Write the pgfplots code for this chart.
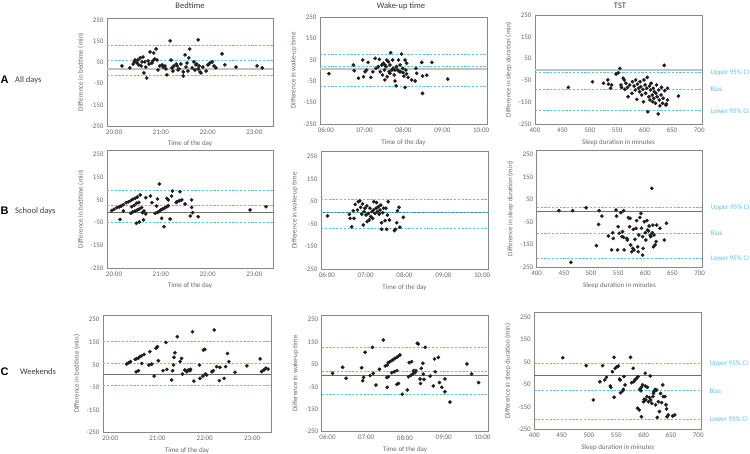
\documentclass[border=0pt]{standalone}
\usepackage{fontspec}
\setmainfont{Carlito}
\newfontfamily\arialfont{Liberation Sans}
\usepackage{pgfplots}
\pgfplotsset{compat=1.18}
\definecolor{bacyan}{RGB}{85,198,235}
\definecolor{labcyan}{RGB}{95,192,232}
\definecolor{txtgray}{RGB}{105,105,105}
\definecolor{titlegray}{RGB}{60,60,60}
\definecolor{framegray}{RGB}{135,135,135}
\definecolor{zerogray}{RGB}{195,195,195}
\definecolor{zerodark}{RGB}{110,110,110}
\definecolor{dotcol}{RGB}{30,30,30}
\tikzset{cilab/.style={anchor=west, xshift=5pt, text=labcyan, font=\fontsize{7}{8}\selectfont}}
\pgfplotsset{
  ba/.style={
    scale only axis, clip=false, anchor=south west,
    axis line style={draw=framegray, line width=0.9pt},
    major tick length=0pt, tick style={draw=none},
    ymin=-250, ytick={-250,-150,-50,50,150,250},
    /pgf/number format/assume math mode=true,
    ticklabel style={font=\fontsize{7}{8}\selectfont, text=txtgray},
    label style={font=\fontsize{7}{8}\selectfont, text=txtgray},
  },
  lcol/.style={xmin=19.85, xmax=23.4, xtick={20,21,22,23}, xticklabels={20:00,21:00,22:00,23:00},
    xlabel={Time of the day}, ylabel={Difference in bedtime (min)}},
  mcol/.style={xmin=5.85, xmax=10.15, xtick={6,7,8,9,10}, xticklabels={06:00,07:00,08:00,09:00,10:00},
    xlabel={Time of the day}, ylabel={Difference in wake-up time}},
  rcol/.style={xmin=400, xmax=705, xtick={400,450,500,550,600,650,700},
    xlabel={Sleep duration in minutes}, ylabel={Difference in sleep duration (min)}},
  dots/.style={only marks, mark=*, mark size=1.65pt, draw=dotcol, fill=dotcol, mark options={draw=dotcol, fill=dotcol}},
  ci/.style={draw=bacyan, color=bacyan, line width=0.9pt, dash pattern=on 2.2pt off 1.6pt},
  zeroA/.style={draw=zerogray, line width=2pt},
  zeroB/.style={draw=zerodark, line width=0.8pt},
}
\begin{document}
\begin{tikzpicture}
\path[use as bounding box] (0,0) rectangle (750pt,453pt);
% titles
\node[inner sep=0pt, font=\fontsize{8.5}{10}\selectfont, text=titlegray] at (190pt,447pt) {Bedtime};
\node[inner sep=0pt, font=\fontsize{8.5}{10}\selectfont, text=titlegray] at (401pt,447pt) {Wake-up time};
\node[inner sep=0pt, font=\fontsize{8.5}{10}\selectfont, text=titlegray] at (620pt,447pt) {TST};
% row labels
\node[anchor=west, inner sep=0pt, font=\arialfont\bfseries\fontsize{11}{12}\selectfont] at (0.5pt,373pt) {A};
\node[anchor=west, inner sep=0pt, font=\fontsize{8.5}{10}\selectfont, text=titlegray] at (15pt,373pt) {All days};
\node[anchor=west, inner sep=0pt, font=\arialfont\bfseries\fontsize{11}{12}\selectfont] at (0.5pt,242pt) {B};
\node[anchor=west, inner sep=0pt, font=\fontsize{8.5}{10}\selectfont, text=titlegray] at (15pt,242pt) {School days};
\node[anchor=west, inner sep=0pt, font=\arialfont\bfseries\fontsize{11}{12}\selectfont] at (0.5pt,81pt) {C};
\node[anchor=west, inner sep=0pt, font=\fontsize{8.5}{10}\selectfont, text=titlegray] at (20pt,81pt) {Weekends};

% ===== A1 =====
\begin{axis}[ba, lcol, at={(107pt,327pt)}, width=166pt, height=108pt, ymax=259]
\addplot[zeroA] coordinates {(19.85,19) (23.4,19)};
\addplot[ci] coordinates {(19.85,129) (23.4,129)};
\addplot[ci] coordinates {(19.85,57) (23.4,57)};
\addplot[ci] coordinates {(19.85,-13) (23.4,-13)};
\addplot[dots] table[row sep=\\] {
x y\\ 20.17 33\\ 20.34 24\\ 20.41 42\\ 20.43 52\\ 20.45 61\\ 20.49 47\\ 20.51 61\\ 20.53 38\\ 20.56 71\\ 20.60 52\\
20.62 75\\ 20.66 52\\ 20.68 28\\ 20.64 0\\ 20.70 -24\\ 20.75 42\\ 20.77 99\\ 20.81 47\\ 20.83 57\\ 20.85 94\\
20.87 66\\ 20.90 113\\ 20.92 61\\ 20.94 14\\ 20.98 33\\ 21.03 38\\ 21.09 33\\ 21.11 19\\ 21.13 -9\\ 21.20 151\\
21.22 61\\ 21.24 24\\ 21.26 9\\ 21.28 33\\ 21.33 42\\ 21.35 33\\ 21.39 19\\ 21.43 42\\ 21.48 5\\ 21.48 -14\\
21.52 85\\ 21.54 28\\ 21.56 47\\ 21.60 71\\ 21.62 113\\ 21.67 24\\ 21.71 52\\ 21.73 14\\ 21.80 156\\ 21.77 42\\
21.80 19\\ 21.82 33\\ 21.84 5\\ 21.86 0\\ 21.97 9\\ 22.01 38\\ 22.05 47\\ 22.10 52\\ 22.18 24\\ 22.31 90\\
22.37 38\\ 22.61 28\\ 23.06 33\\ 23.17 24\\ 20.58 33\\ 20.73 57\\ 21.05 28\\ 21.37 14\\ 21.58 9\\ 21.75 38\\
21.90 28\\ 22.14 33\\
};
\end{axis}

% ===== A2 =====
\begin{axis}[ba, mcol, at={(320pt,329pt)}, width=167pt, height=107pt, ymax=250]
\addplot[zeroA] coordinates {(5.85,8) (10.15,8)};
\addplot[ci] coordinates {(5.85,77) (10.15,77)};
\addplot[ci] coordinates {(5.85,18) (10.15,18)};
\addplot[ci] coordinates {(5.85,-76) (10.15,-76)};
\addplot[dots] table[row sep=\\] {
x y\\ 6.08 -15\\ 6.71 26\\ 6.73 -1\\ 6.84 -36\\ 6.95 49\\ 6.97 -29\\ 7.01 -6\\ 7.05 2\\ 7.09 38\\ 7.16 -32\\
7.21 -6\\ 7.27 57\\ 7.29 10\\ 7.35 18\\ 7.38 52\\ 7.40 -6\\ 7.44 26\\ 7.46 -21\\ 7.48 34\\ 7.51 2\\
7.52 -44\\ 7.55 18\\ 7.57 49\\ 7.58 -29\\ 7.61 41\\ 7.63 -6\\ 7.65 26\\ 7.67 83\\ 7.70 2\\ 7.72 49\\
7.74 10\\ 7.76 -21\\ 7.78 -49\\ 7.81 -72\\ 7.82 18\\ 7.85 2\\ 7.87 49\\ 7.89 -6\\ 7.91 26\\ 7.95 77\\
7.98 10\\ 7.99 -10\\ 8.01 -26\\ 8.04 49\\ 8.04 -79\\ 8.06 2\\ 8.08 -16\\ 8.12 -32\\ 8.21 -44\\ 8.30 -49\\
8.32 10\\ 8.34 -13\\ 8.47 38\\ 8.49 -26\\ 8.49 -107\\ 8.60 -22\\ 8.73 38\\ 9.14 -40\\ 7.52 26\\ 7.65 -13\\
7.78 2\\ 7.93 -6\\ 8.08 34\\
};
\end{axis}

% ===== A3 =====
\begin{axis}[ba, rcol, at={(535pt,329pt)}, width=167pt, height=109pt, ymax=250]
\addplot[zeroA] coordinates {(400,0) (705,0)};
\addplot[ci] coordinates {(400,-13) (705,-13)};
\addplot[ci] coordinates {(400,-92) (705,-92)};
\addplot[ci] coordinates {(400,-190) (705,-190)};
\node[cilab] at (axis cs:705,-13) {Upper 95\% CI};
\node[cilab] at (axis cs:705,-92) {Bias};
\node[cilab] at (axis cs:705,-190) {Lower 95\% CI};
\addplot[dots] table[row sep=\\] {
x y\\ 461 -82\\ 505 -56\\ 525 -63\\ 533 -48\\ 534 -67\\ 538 -86\\ 540 -71\\ 548 -21\\ 552 -15\\ 555 5\\
557 -71\\ 558 -82\\ 561 -40\\ 563 -48\\ 564 -91\\ 566 -63\\ 569 -82\\ 570 -125\\ 573 -71\\ 577 -109\\
578 -56\\ 581 -76\\ 583 -94\\ 584 -48\\ 586 -137\\ 587 -67\\ 589 -86\\ 591 -102\\ 592 -56\\ 593 -79\\
595 -117\\ 597 -91\\ 598 -148\\ 599 -48\\ 601 -71\\ 602 -109\\ 604 -86\\ 605 -36\\ 606 -194\\ 608 -125\\
609 -76\\ 610 -140\\ 611 -94\\ 612 -63\\ 614 -117\\ 615 -148\\ 616 -86\\ 617 -132\\ 618 -102\\ 620 -155\\
621 -109\\ 622 -71\\ 623 -125\\ 625 -204\\ 626 -94\\ 627 -140\\ 628 -167\\ 630 -117\\ 631 -82\\ 633 -155\\
634 -132\\ 636 19\\ 637 -97\\ 639 -163\\ 642 -86\\ 642 -140\\ 640 -158\\ 662 -122\\
};
\end{axis}

% ===== B1 =====
\begin{axis}[ba, lcol, at={(107pt,185pt)}, width=166pt, height=118pt, ymax=270]
\addplot[zeroB] coordinates {(19.85,-4) (23.4,-4)};
\addplot[ci] coordinates {(19.85,91) (23.4,91)};
\addplot[ci] coordinates {(19.85,24) (23.4,24)};
\addplot[ci] coordinates {(19.85,-49) (23.4,-49)};
\addplot[dots] table[row sep=\\] {
x y\\ 19.95 3\\ 20.00 9\\ 20.06 16\\ 20.11 19\\ 20.15 23\\ 20.20 29\\ 20.26 38\\ 20.31 42\\ 20.36 47\\ 20.40 53\\
20.45 57\\ 20.50 63\\ 20.56 72\\ 20.13 -36\\ 20.20 1\\ 20.38 20\\ 20.43 26\\ 20.48 35\\ 20.53 39\\ 20.36 -9\\
20.40 -3\\ 20.45 1\\ 20.50 6\\ 20.54 10\\ 20.59 16\\ 20.48 -53\\ 20.54 -47\\ 20.63 -38\\ 20.61 -6\\ 20.64 1\\
20.68 -12\\ 20.68 60\\ 20.78 67\\ 20.81 38\\ 20.88 -9\\ 20.91 23\\ 20.93 -5\\ 20.97 0\\ 20.97 120\\ 21.00 6\\
21.04 10\\ 21.08 14\\ 21.13 20\\ 21.16 25\\ 20.93 54\\ 21.02 -31\\ 21.07 -68\\ 21.13 57\\ 21.16 50\\ 21.20 -34\\
21.23 67\\ 21.25 89\\ 21.33 39\\ 21.35 42\\ 21.40 47\\ 21.41 86\\ 21.45 50\\ 21.52 32\\ 21.63 -21\\ 21.66 50\\
21.66 17\\ 21.68 -6\\ 21.80 -24\\ 22.91 6\\ 23.25 20\\
};
\end{axis}

% ===== B2 =====
\begin{axis}[ba, mcol, at={(321pt,183.7pt)}, width=167pt, height=117.6pt, ymax=270]
\addplot[zeroB] coordinates {(5.85,2) (10.15,2)};
\addplot[ci] coordinates {(5.85,59) (10.15,59)};
\addplot[ci] coordinates {(5.85,2) (10.15,2)};
\addplot[ci] coordinates {(5.85,-69) (10.15,-69)};
\addplot[dots] table[row sep=\\] {
x y\\ 6.02 -14\\ 6.58 -7\\ 6.60 -25\\ 6.64 -62\\ 6.68 9\\ 6.70 -25\\ 6.73 37\\ 6.79 12\\ 6.81 49\\ 6.85 53\\
6.87 24\\ 6.90 -6\\ 6.92 39\\ 6.94 -54\\ 6.96 5\\ 6.98 20\\ 7.01 -10\\ 7.03 30\\ 7.04 -39\\ 7.07 -3\\
7.09 -32\\ 7.11 20\\ 7.13 -17\\ 7.16 5\\ 7.18 -25\\ 7.20 12\\ 7.21 49\\ 7.24 -3\\ 7.27 20\\ 7.28 45\\
7.30 5\\ 7.33 27\\ 7.35 -6\\ 7.37 12\\ 7.39 34\\ 7.41 -73\\ 7.41 -44\\ 7.44 0\\ 7.46 20\\ 7.50 -35\\
7.52 20\\ 7.54 -73\\ 7.56 -10\\ 7.58 49\\ 7.61 -32\\ 7.74 -79\\ 7.77 -73\\ 7.80 -44\\ 7.82 9\\ 7.86 24\\
7.88 -64\\ 7.97 -20\\
};
\end{axis}

% ===== B3 =====
\begin{axis}[ba, rcol, at={(536.7pt,185.7pt)}, width=165.6pt, height=117.3pt, ymax=270]
\addplot[zeroB] coordinates {(400,0) (705,0)};
\addplot[ci] coordinates {(400,16) (705,16)};
\addplot[ci] coordinates {(400,-99) (705,-99)};
\addplot[ci] coordinates {(400,-210) (705,-210)};
\node[cilab] at (axis cs:705,16) {Upper 95\% CI};
\node[cilab] at (axis cs:705,-99) {Bias};
\node[cilab] at (axis cs:705,-210) {Lower 95\% CI};
\addplot[dots] table[row sep=\\] {
x y\\ 441 1\\ 466 1\\ 491 14\\ 515 1\\ 520 -23\\ 514 -60\\ 510 -154\\ 532 -111\\ 540 -97\\ 541 -122\\
538 -173\\ 546 4\\ 547 -23\\ 549 -173\\ 550 -70\\ 552 -99\\ 555 -8\\ 557 -114\\ 558 -92\\ 560 1\\
560 -117\\ 561 -173\\ 566 -122\\ 567 -129\\ 569 -30\\ 571 -70\\ 572 -33\\ 573 -151\\ 575 -181\\ 577 -166\\
578 -82\\ 579 -173\\ 581 -126\\ 583 -77\\ 584 -43\\ 586 -159\\ 587 -181\\ 588 -107\\ 590 -29\\ 592 -11\\
593 -77\\ 595 -114\\ 595 -196\\ 596 -166\\ 598 -48\\ 600 -97\\ 601 -129\\ 603 -43\\ 604 -85\\ 606 -89\\
607 -67\\ 609 -107\\ 610 -114\\ 612 100\\ 613 -97\\ 614 -63\\ 615 -159\\ 616 -107\\ 618 -151\\ 620 -136\\
621 -63\\ 627 -77\\ 635 -129\\ 639 -55\\ 463 -228\\
};
\end{axis}

% ===== C1 =====
\begin{axis}[ba, lcol, at={(103pt,20.3pt)}, width=168pt, height=117.7pt, ymax=270]
\addplot[zeroB] coordinates {(19.85,7) (23.4,7)};
\addplot[ci] coordinates {(19.85,152) (23.4,152)};
\addplot[ci] coordinates {(19.85,56) (23.4,56)};
\addplot[ci] coordinates {(19.85,-42) (23.4,-42)};
\addplot[dots] table[row sep=\\] {
x y\\ 20.35 53\\ 20.39 59\\ 20.43 64\\ 20.53 74\\ 20.56 77\\ 20.60 80\\ 20.63 86\\ 20.67 90\\ 20.72 96\\ 20.55 19\\
20.60 24\\ 20.67 56\\ 20.82 49\\ 20.84 108\\ 20.88 53\\ 20.93 0\\ 20.97 123\\ 21.00 130\\ 21.02 68\\ 21.12 24\\
21.18 149\\ 21.20 30\\ 21.30 -17\\ 21.32 24\\ 21.34 49\\ 21.35 83\\ 21.37 103\\ 21.42 174\\ 21.48 64\\ 21.51 78\\
21.53 9\\ 21.58 27\\ 21.62 19\\ 21.65 27\\ 21.69 24\\ 21.70 30\\ 21.74 196\\ 21.77 -22\\ 21.89 49\\ 21.90 -10\\
21.96 0\\ 21.97 115\\ 22.00 118\\ 22.01 9\\ 22.04 5\\ 22.15 19\\ 22.18 24\\ 22.20 204\\ 22.25 42\\ 22.32 39\\
22.31 -20\\ 22.41 -10\\ 22.44 42\\ 22.48 100\\ 22.51 64\\ 22.64 17\\ 22.89 45\\ 23.17 76\\ 23.20 20\\ 23.25 27\\
23.29 35\\ 23.34 31\\
};
\end{axis}

% ===== C2 =====
\begin{axis}[ba, mcol, at={(321.7pt,21.3pt)}, width=166.6pt, height=116.7pt, ymax=270]
\addplot[zeroB] coordinates {(5.85,1) (10.15,1)};
\addplot[ci] coordinates {(5.85,124) (10.15,124)};
\addplot[ci] coordinates {(5.85,20) (10.15,20)};
\addplot[ci] coordinates {(5.85,-83) (10.15,-83)};
\addplot[dots] table[row sep=\\] {
x y\\ 6.13 10\\ 6.39 37\\ 6.48 -12\\ 6.88 35\\ 6.91 -23\\ 6.93 -8\\ 6.97 104\\ 7.10 0\\ 7.16 126\\ 7.18 10\\
7.25 -42\\ 7.34 28\\ 7.44 159\\ 7.49 43\\ 7.54 47\\ 7.57 58\\ 7.61 62\\ 7.66 67\\ 7.70 72\\ 7.74 77\\
7.79 81\\ 7.83 87\\ 7.87 92\\ 7.53 -8\\ 7.57 -5\\ 7.54 -52\\ 7.66 13\\ 7.72 17\\ 7.79 22\\ 7.79 -39\\
7.83 -35\\ 7.93 -83\\ 8.06 -64\\ 8.09 -5\\ 8.11 58\\ 8.15 1\\ 8.17 62\\ 8.20 7\\ 8.22 22\\ 8.26 13\\
8.28 22\\ 8.32 144\\ 8.34 141\\ 8.39 -15\\ 8.40 -35\\ 8.42 32\\ 8.46 55\\ 8.47 7\\ 8.49 -17\\ 8.52 126\\
8.65 -2\\ 8.73 -46\\ 8.76 74\\ 8.78 17\\ 8.86 81\\ 8.89 -31\\ 8.95 -52\\ 9.03 -15\\ 9.03 -72\\ 9.16 -118\\
9.60 52\\ 9.72 7\\ 9.90 -31\\
};
\end{axis}

% ===== C3 =====
\begin{axis}[ba, rcol, at={(534.3pt,23.7pt)}, width=166.7pt, height=116.6pt, ymax=270]
\addplot[zeroB] coordinates {(400,-9) (705,-9)};
\addplot[ci] coordinates {(400,44) (705,44)};
\addplot[ci] coordinates {(400,-78) (705,-78)};
\addplot[ci] coordinates {(400,-204) (705,-204)};
\node[cilab] at (axis cs:705,44) {Upper 95\% CI};
\node[cilab] at (axis cs:705,-78) {Bias};
\node[cilab] at (axis cs:705,-204) {Lower 95\% CI};
\addplot[dots] table[row sep=\\] {
x y\\ 452 69\\ 495 34\\ 508 -119\\ 520 -38\\ 525 34\\ 529 -30\\ 532 -18\\ 539 -57\\ 540 -63\\ 543 7\\
546 71\\ 546 -107\\ 548 22\\ 551 29\\ 554 32\\ 556 -26\\ 557 -30\\ 558 -87\\ 562 -78\\ 563 -72\\
564 -15\\ 566 -52\\ 576 71\\ 578 -42\\ 581 22\\ 582 -38\\ 584 -30\\ 587 -23\\ 589 -156\\ 590 -15\\
592 -164\\ 593 -72\\ 595 -78\\ 596 -63\\ 596 -194\\ 598 -52\\ 600 -127\\ 601 -116\\ 603 -57\\ 603 0\\
604 -119\\ 606 -104\\ 607 -63\\ 609 -127\\ 611 -109\\ 612 -12\\ 613 -119\\ 615 -134\\ 617 -104\\ 618 -90\\
619 -82\\ 621 -72\\ 622 -141\\ 624 -75\\ 625 -197\\ 627 -127\\ 629 -171\\ 631 -90\\ 633 -131\\ 635 -52\\
636 -104\\ 639 -104\\ 641 -141\\ 642 -159\\ 643 -194\\ 645 -186\\ 653 -191\\ 657 -186\\
};
\end{axis}
\end{tikzpicture}
\end{document}
